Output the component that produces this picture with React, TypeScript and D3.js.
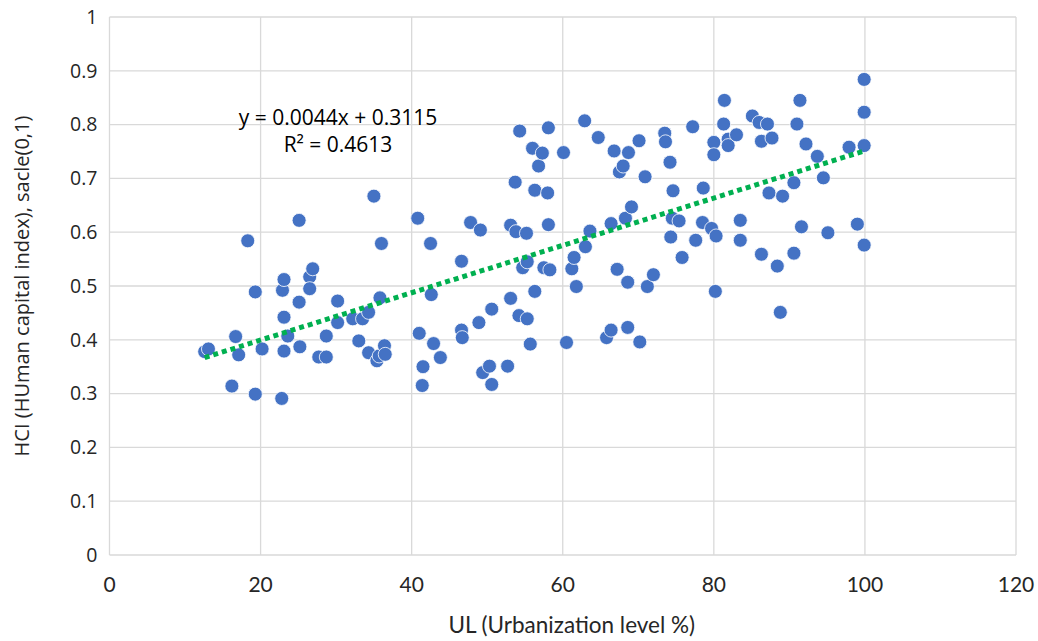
import React, { useEffect, useRef } from 'react';
import * as d3 from 'd3';

// urbanization level (%) per point
const ulValues = [
	12.6, 13.1, 16.2, 16.7, 17.1, 18.3, 19.3, 19.3, 20.2, 22.8, 22.9, 23.1, 23.1, 23.1, 23.6, 25.1, 25.1, 25.2,
	26.5, 26.5, 26.9, 27.7, 28.7, 28.7, 30.2, 30.2, 32.2, 33.0, 33.5, 34.3, 34.3, 35.0, 35.4, 35.7, 35.8, 36.0,
	36.4, 36.5, 40.8, 41.0, 41.4, 41.5, 42.5, 42.6, 42.9, 43.8, 46.6, 46.6, 46.7, 47.8, 48.9, 49.1, 49.4, 50.3,
	50.6, 50.6, 52.7, 53.1, 53.1, 53.7, 53.8, 54.2, 54.3, 54.7, 55.2, 55.3, 55.3, 55.7, 56.0, 56.3, 56.3, 56.8,
	57.3, 57.5, 58.0, 58.1, 58.1, 58.3, 60.1, 60.5, 61.2, 61.5, 61.8, 62.9, 63.0, 63.6, 64.7, 65.8, 66.4, 66.4,
	66.8, 67.2, 67.5, 68.0, 68.3, 68.6, 68.6, 68.7, 69.1, 70.1, 70.2, 70.9, 71.2, 72.0, 73.5, 73.6, 74.2, 74.3,
	74.5, 74.6, 75.4, 75.8, 77.2, 77.6, 78.5, 78.6, 79.7, 80.0, 80.0, 80.2, 80.3, 81.3, 81.4, 81.9, 81.9, 83.0,
	83.5, 83.5, 85.1, 86.0, 86.3, 86.3, 87.1, 87.3, 87.7, 88.4, 88.8, 89.1, 90.6, 90.6, 91.0, 91.4, 91.6, 92.2,
	93.7, 94.5, 95.1, 97.9, 99.0, 99.9, 99.9, 99.9, 99.9,
];
// human capital index per point, same order
const hciValues = [
	0.378, 0.383, 0.314, 0.406, 0.372, 0.584, 0.489, 0.299, 0.383, 0.291, 0.492, 0.512, 0.442, 0.379, 0.407, 0.622, 0.47, 0.387,
	0.517, 0.495, 0.532, 0.368, 0.368, 0.407, 0.472, 0.432, 0.439, 0.398, 0.439, 0.451, 0.376, 0.667, 0.361, 0.37, 0.478, 0.579,
	0.389, 0.373, 0.626, 0.412, 0.315, 0.35, 0.579, 0.484, 0.393, 0.367, 0.546, 0.418, 0.404, 0.618, 0.432, 0.604, 0.339, 0.351,
	0.457, 0.317, 0.351, 0.613, 0.477, 0.693, 0.601, 0.445, 0.788, 0.534, 0.598, 0.545, 0.439, 0.392, 0.756, 0.678, 0.49, 0.723,
	0.747, 0.534, 0.673, 0.794, 0.614, 0.53, 0.748, 0.395, 0.532, 0.553, 0.499, 0.807, 0.573, 0.602, 0.776, 0.404, 0.616, 0.418,
	0.751, 0.531, 0.712, 0.723, 0.626, 0.507, 0.423, 0.748, 0.647, 0.77, 0.396, 0.703, 0.499, 0.521, 0.784, 0.768, 0.73, 0.591,
	0.626, 0.677, 0.621, 0.553, 0.796, 0.585, 0.618, 0.682, 0.607, 0.767, 0.744, 0.49, 0.593, 0.801, 0.845, 0.773, 0.761, 0.781,
	0.622, 0.585, 0.816, 0.804, 0.769, 0.559, 0.801, 0.673, 0.775, 0.537, 0.451, 0.667, 0.692, 0.561, 0.801, 0.845, 0.61, 0.764,
	0.741, 0.701, 0.599, 0.758, 0.615, 0.884, 0.823, 0.761, 0.576,
];
const xTicks = [0, 20, 40, 60, 80, 100, 120];
const yTicks = [0, 0.1, 0.2, 0.3, 0.4, 0.5, 0.6, 0.7, 0.8, 0.9, 1];
const trendSlope = 0.0044;
const trendIntercept = 0.3115;
const trendLabel = 'y = 0.0044x + 0.3115';
const r2Label = 'R² = 0.4613';

const width = 1038;
const height = 641;
const margin = { top: 17, right: 22, bottom: 86, left: 109.5 };

export default function App() {
	const ref = useRef<SVGSVGElement>(null);

	useEffect(() => {
		const svg = d3.select(ref.current);
		svg.selectAll('*').remove();

		const x = d3.scaleLinear().domain([0, 120]).range([margin.left, width - margin.right]);
		const y = d3.scaleLinear().domain([0, 1]).range([height - margin.bottom, margin.top]);

		svg.append('rect').attr('width', width).attr('height', height).attr('fill', '#fff');

		const grid = svg.append('g').attr('stroke', '#d9d9d9').attr('stroke-width', 1.3);
		grid.selectAll('.hg')
			.data(yTicks)
			.enter()
			.append('line')
			.attr('x1', x(0))
			.attr('x2', x(120))
			.attr('y1', d => y(d))
			.attr('y2', d => y(d));
		grid.selectAll('.vg')
			.data(xTicks)
			.enter()
			.append('line')
			.attr('x1', d => x(d))
			.attr('x2', d => x(d))
			.attr('y1', y(0))
			.attr('y2', y(1));

		// y tick labels
		svg.append('g')
			.selectAll('text')
			.data(yTicks)
			.enter()
			.append('text')
			.attr('x', x(0) - 12)
			.attr('y', d => y(d))
			.attr('dy', '0.35em')
			.attr('text-anchor', 'end')
			.style('font', '19.5px "Open Sans", sans-serif')
			.attr('fill', '#262626')
			.text(d => d3.format('')(d));

		// x tick labels
		svg.append('g')
			.selectAll('text')
			.data(xTicks)
			.enter()
			.append('text')
			.attr('x', d => x(d))
			.attr('y', y(0) + 37)
			.attr('text-anchor', 'middle')
			.style('font', '21px Lato, sans-serif')
			.attr('fill', '#262626')
			.text(d => d);

		// axis titles
		svg.append('text')
			.attr('x', (x(0) + x(120)) / 2 + 9)
			.attr('y', height - 8)
			.attr('text-anchor', 'middle')
			.style('font', '22.5px Lato, sans-serif')
			.attr('fill', '#262626')
			.text('UL (Urbanization level %)');
		svg.append('text')
			.attr('transform', `translate(29,${(y(0) + y(1)) / 2}) rotate(-90)`)
			.attr('text-anchor', 'middle')
			.style('font', '20px "Open Sans", sans-serif')
			.attr('fill', '#262626')
			.text('HCI (HUman capital index), sacle(0,1)');

		const points = ulValues.map((v, i) => ({ ul: v, hci: hciValues[i] }));
		svg.append('g')
			.selectAll('circle')
			.data(points)
			.enter()
			.append('circle')
			.attr('cx', d => x(d.ul))
			.attr('cy', d => y(d.hci))
			.attr('r', 7)
			.attr('fill', '#4472c4')
			.attr('stroke', '#fff')
			.attr('stroke-width', 0.8);

		// linear trend line
		const xExt = d3.extent(ulValues) as [number, number];
		const trend = d3
			.line<number>()
			.x(d => x(d))
			.y(d => y(trendSlope * d + trendIntercept));
		svg.append('path')
			.attr('d', trend(xExt))
			.attr('fill', 'none')
			.attr('stroke', '#00b050')
			.attr('stroke-width', 5)
			.attr('stroke-dasharray', '5,4');

		svg.append('text')
			.attr('x', 338)
			.attr('y', 118)
			.attr('dy', '0.35em')
			.attr('text-anchor', 'middle')
			.style('font', '21px "Open Sans", sans-serif')
			.attr('fill', '#000')
			.text(trendLabel);
		svg.append('text')
			.attr('x', 338)
			.attr('y', 145)
			.attr('dy', '0.35em')
			.attr('text-anchor', 'middle')
			.style('font', '21px "Open Sans", sans-serif')
			.attr('fill', '#000')
			.text(r2Label);
	}, []);

	return (
		<svg
			ref={ref}
			width={width}
			height={height}
			style={{ position: 'absolute', left: 0, top: 0, display: 'block' }}
		/>
	);
}
